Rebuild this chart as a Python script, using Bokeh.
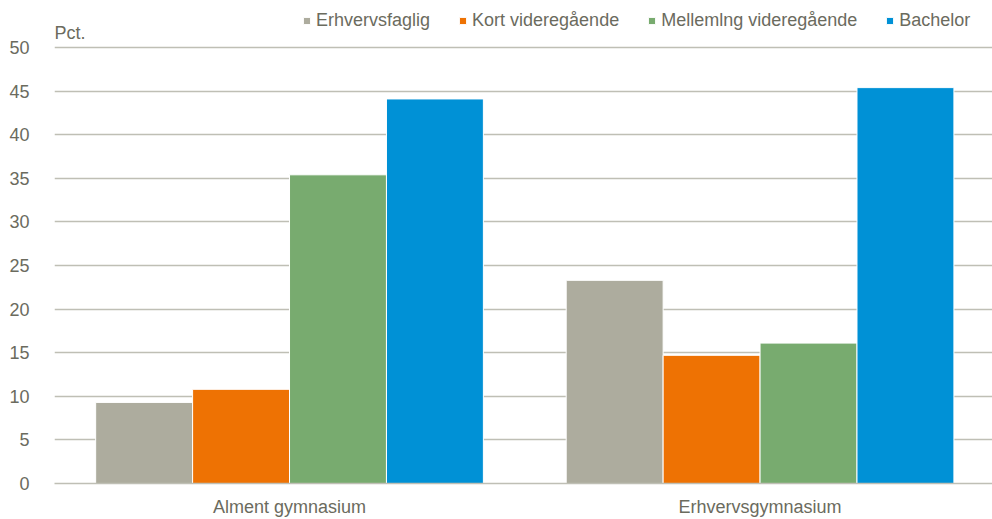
from bokeh.plotting import figure
from bokeh.models import (ColumnDataSource, Range1d, FixedTicker,
                          Legend, LegendItem, Label)
from bokeh.transform import dodge
from bokeh.embed import file_html
from bokeh.resources import INLINE

categories = ["Alment gymnasium", "Erhvervsgymnasium"]
series_names = ["Erhvervsfaglig", "Kort videregående", "Mellemlng videregående", "Bachelor"]
erhvervsfaglig = [9.3, 23.3]
kort_videregaaende = [10.8, 14.7]
mellemlang_videregaaende = [35.4, 16.1]
bachelor = [44.1, 45.4]
y_ticks = [0, 5, 10, 15, 20, 25, 30, 35, 40, 45, 50]

colors = ["#ADAC9E", "#EE7203", "#78AB6F", "#0091D6"]
FONT = "Liberation Sans"
TXT = "#6B6B5E"
GRID = "#BFBFB5"

series_values = [erhvervsfaglig, kort_videregaaende, mellemlang_videregaaende, bachelor]

X0, X1 = -0.4995, 1.494
Y_TOP = 55.39  # headroom above the 50 line for the legend and unit label
p = figure(width=992, height=519, output_backend="svg", toolbar_location=None,
           x_range=Range1d(X0, X1), y_range=Range1d(0, Y_TOP),
           min_border_left=54, min_border_top=0, min_border_right=0, min_border_bottom=35)
p.outline_line_color = None

x_idx = list(range(len(categories)))
bw = 0.206
offsets = [-1.5 * bw, -0.5 * bw, 0.5 * bw, 1.5 * bw]
renderers = []
for name, vals, col, off in zip(series_names, series_values, colors, offsets):
    src = ColumnDataSource(dict(x=x_idx, top=vals))
    r = p.vbar(x=dodge("x", off, range=p.x_range), top="top", width=bw, source=src,
               fill_color=col, line_color="white", line_width=1)
    renderers.append(r)

# axes
p.yaxis.ticker = FixedTicker(ticks=y_ticks)
p.yaxis.axis_line_color = None
p.yaxis.major_tick_line_color = None
p.yaxis.minor_tick_line_color = None
p.yaxis.major_label_standoff = 19
p.yaxis.major_label_text_font = FONT
p.yaxis.major_label_text_font_size = "18px"
p.yaxis.major_label_text_color = TXT

p.xaxis.ticker = FixedTicker(ticks=x_idx)
p.xaxis.major_label_overrides = {i: c for i, c in zip(x_idx, categories)}
p.xaxis.axis_line_color = GRID
p.xaxis.axis_line_width = 1.5
p.xaxis.major_tick_line_color = None
p.xaxis.minor_tick_line_color = None
p.xaxis.major_label_standoff = 7
p.xaxis.major_label_text_font = FONT
p.xaxis.major_label_text_font_size = "18px"
p.xaxis.major_label_text_color = TXT

p.xgrid.grid_line_color = None
p.ygrid.grid_line_color = GRID
p.ygrid.grid_line_width = 1.5

p.add_layout(Label(x=X0, y=y_ticks[-1], text="Pct.", y_offset=15, text_baseline="alphabetic",
                   text_font=FONT, text_font_size="18px", text_color=TXT))

legend = Legend(items=[LegendItem(label=n, renderers=[r]) for n, r in zip(series_names, renderers)],
                orientation="horizontal", location=(248, 452),
                glyph_width=9, glyph_height=9, label_standoff=5, spacing=28,
                padding=0, margin=0, border_line_color=None, background_fill_alpha=0,
                label_text_font=FONT, label_text_font_size="18px", label_text_color=TXT)
p.add_layout(legend, "center")

open("out.html", "w").write(file_html(p, INLINE))
